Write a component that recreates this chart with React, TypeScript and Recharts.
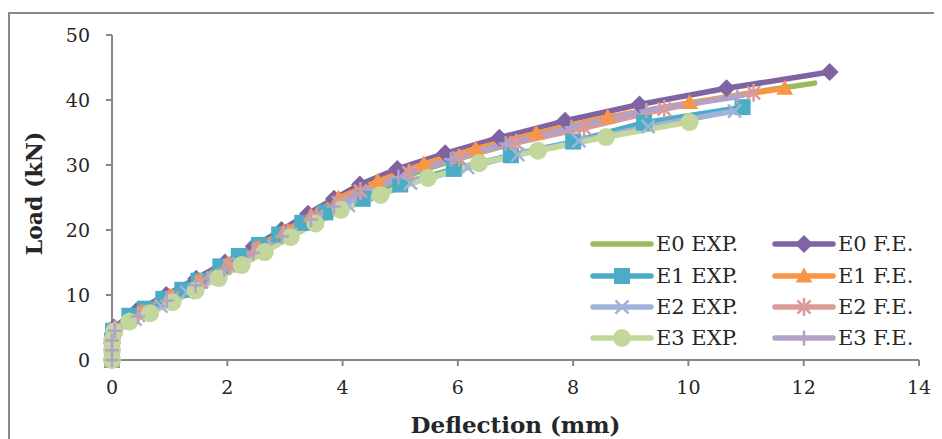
import { LineChart, Line, XAxis, YAxis, Legend, Label } from 'recharts';

// deflection (mm) / load (kN), one pair of arrays per test
const e0ExpDefl = [0, 0, 0.05, 0.5, 1, 1.5, 2, 2.5, 3, 3.5, 4, 4.5, 5, 5.5, 6, 6.5, 7, 7.5, 8, 8.5, 9, 9.5, 10, 10.5, 11, 11.5, 12.19];
const e0ExpLoad = [0, 2, 4.5, 6.6, 9, 11.4, 13.9, 16.4, 19, 21.6, 24.1, 26.1, 27.9, 29.5, 30.9, 32.2, 33.4, 34.5, 35.6, 36.6, 37.6, 38.5, 39.4, 40.2, 41.0, 41.7, 42.6];

const e0FeDefl = [0, 0, 0.03, 0.42, 0.94, 1.46, 1.96, 2.46, 2.94, 3.4, 3.85, 4.3, 4.95, 5.78, 6.72, 7.86, 9.15, 10.66, 12.45];
const e0FeLoad = [0, 2.5, 5, 7.5, 10, 12.5, 15, 17.5, 20, 22.5, 24.8, 27, 29.4, 31.8, 34.2, 36.8, 39.3, 41.8, 44.3];

const e1ExpDefl = [0, 0, 0, 0.02, 0.3, 0.57, 0.89, 1.22, 1.5, 1.88, 2.2, 2.55, 2.9, 3.3, 3.7, 4.35, 5.0, 5.93, 6.92, 8.0, 9.23, 10.94];
const e1ExpLoad = [0, 1.5, 3, 4.5, 6.8, 7.9, 9.4, 10.8, 12.2, 14.4, 16, 17.7, 19.3, 21.1, 22.7, 24.8, 27, 29.4, 31.5, 33.6, 36.5, 38.9];

const e1FeDefl = [0, 0, 0.04, 0.5, 1.0, 1.5, 2.0, 2.5, 2.98, 3.45, 3.93, 4.61, 5.41, 6.31, 7.36, 8.6, 10.02, 11.67];
const e1FeLoad = [0, 2.4, 4.8, 7.3, 9.8, 12.2, 14.7, 17.2, 19.7, 22.2, 24.9, 27.5, 30.2, 32.5, 34.9, 37.4, 39.6, 41.8];

const e2ExpDefl = [0, 0, 0.03, 0.4, 0.85, 1.3, 1.75, 2.2, 2.65, 3.1, 3.55, 4.1, 4.6, 5.18, 6.17, 7.04, 8.1, 9.3, 10.8];
const e2ExpLoad = [0, 2, 4.2, 6.3, 8.3, 10.4, 12.6, 14.8, 17, 19.3, 21.5, 23.8, 25.4, 27.2, 29.6, 31.6, 33.7, 35.9, 38.3];

const e2FeDefl = [0, 0, 0.06, 0.55, 1.05, 1.55, 2.05, 2.55, 3.05, 3.55, 3.93, 4.31, 5.15, 6.02, 7.01, 8.19, 9.58, 11.13];
const e2FeLoad = [0, 2.4, 4.8, 7.2, 9.6, 12.0, 14.5, 17.0, 19.6, 22.1, 24.2, 26.0, 28.8, 31.1, 33.4, 35.7, 38.6, 41.1];

const e3ExpDefl = [0, 0, 0, 0.04, 0.3, 0.66, 1.05, 1.45, 1.85, 2.25, 2.65, 3.1, 3.53, 3.97, 4.66, 5.48, 6.37, 7.39, 8.57, 10.02];
const e3ExpLoad = [0, 1.5, 3, 4.4, 5.9, 7.2, 8.9, 10.7, 12.6, 14.6, 16.6, 18.9, 21, 23.1, 25.4, 28, 30.3, 32.2, 34.3, 36.6];

const e3FeDefl = [0, 0, 0, 0.05, 0.45, 0.95, 1.45, 1.95, 2.45, 2.95, 3.45, 3.85, 4.23, 4.97, 5.88, 6.83, 7.97, 9.27, 10.85];
const e3FeLoad = [0, 1.5, 3, 4.5, 6.7, 9.1, 11.5, 14, 16.5, 19, 21.6, 23.6, 25.3, 28.1, 30.9, 33.3, 35.8, 38.4, 40.5];

const xTicks = [0, 2, 4, 6, 8, 10, 12, 14];
const yTicks = [0, 10, 20, 30, 40, 50];

type Shape = 'none' | 'diamond' | 'square' | 'triangle' | 'x' | 'star' | 'circle' | 'plus';

const series: { name: string; defl: number[]; load: number[]; color: string; shape: Shape }[] = [
  { name: 'E0 EXP.', defl: e0ExpDefl, load: e0ExpLoad, color: '#9bbb59', shape: 'none' },
  { name: 'E0 F.E.', defl: e0FeDefl, load: e0FeLoad, color: '#8064a2', shape: 'diamond' },
  { name: 'E1 EXP.', defl: e1ExpDefl, load: e1ExpLoad, color: '#4bacc6', shape: 'square' },
  { name: 'E1 F.E.', defl: e1FeDefl, load: e1FeLoad, color: '#f79646', shape: 'triangle' },
  { name: 'E2 EXP.', defl: e2ExpDefl, load: e2ExpLoad, color: '#a0b4da', shape: 'x' },
  { name: 'E2 F.E.', defl: e2FeDefl, load: e2FeLoad, color: '#d99a98', shape: 'star' },
  { name: 'E3 EXP.', defl: e3ExpDefl, load: e3ExpLoad, color: '#c3d69b', shape: 'circle' },
  { name: 'E3 F.E.', defl: e3FeDefl, load: e3FeLoad, color: '#b3a2c7', shape: 'plus' },
];

const axisColor = '#888888';
const textColor = '#262626';
const serif = "'DejaVu Serif', serif";

const marker = (shape: Shape, color: string, cx: number, cy: number, key?: string) => {
  switch (shape) {
    case 'diamond':
      return <path key={key} d={`M${cx},${cy - 9}L${cx + 9},${cy}L${cx},${cy + 9}L${cx - 9},${cy}Z`} fill={color} />;
    case 'square':
      return <rect key={key} x={cx - 8} y={cy - 8} width={16} height={16} fill={color} />;
    case 'triangle':
      return <path key={key} d={`M${cx},${cy - 8.5}L${cx + 8.5},${cy + 6.5}L${cx - 8.5},${cy + 6.5}Z`} fill={color} />;
    case 'x':
      return (
        <path key={key} d={`M${cx - 6.5},${cy - 6.5}L${cx + 6.5},${cy + 6.5}M${cx - 6.5},${cy + 6.5}L${cx + 6.5},${cy - 6.5}`} stroke={color} strokeWidth={2.5} />
      );
    case 'star':
      return (
        <path
          key={key}
          d={`M${cx - 6.5},${cy - 6.5}L${cx + 6.5},${cy + 6.5}M${cx - 6.5},${cy + 6.5}L${cx + 6.5},${cy - 6.5}M${cx},${cy - 9}L${cx},${cy + 9}`}
          stroke={color}
          strokeWidth={2.5}
        />
      );
    case 'circle':
      return <circle key={key} cx={cx} cy={cy} r={9} fill={color} />;
    case 'plus':
      return <path key={key} d={`M${cx - 7},${cy}L${cx + 7},${cy}M${cx},${cy - 7.5}L${cx},${cy + 7.5}`} stroke={color} strokeWidth={2.5} />;
    default:
      return <g key={key} />;
  }
};

const dotFor = (shape: Shape, color: string, name: string) => (props: any) => {
  const key = `${name}-${props.index}`;
  if (props.cx == null || props.cy == null) return <g key={key} />;
  return marker(shape, color, props.cx, props.cy, key);
};

const LegendBox = () => {
  const rows = [16, 48, 79, 110];
  return (
    <svg width={340} height={128} style={{ display: 'block' }}>
      {series.map((s, i) => {
        const col = i % 2;
        const y = rows[Math.floor(i / 2)];
        const x0 = col === 0 ? 3 : 185;
        return (
          <g key={s.name}>
            <line x1={x0} x2={x0 + 58} y1={y} y2={y} stroke={s.color} strokeWidth={5.5} strokeLinecap="round" />
            {marker(s.shape, s.color, x0 + 29, y)}
            <text x={x0 + 63} y={y} dominantBaseline="central" fontFamily={serif} fontSize={21} fill={textColor}>
              {s.name}
            </text>
          </g>
        );
      })}
    </svg>
  );
};

const YTitle = ({ viewBox }: any) => {
  const x = viewBox.x + 24;
  const y = viewBox.y + viewBox.height / 2 - 4;
  return (
    <text x={x} y={y} transform={`rotate(-90 ${x} ${y})`} textAnchor="middle" dominantBaseline="central" fontFamily={serif} fontWeight="bold" fontSize={22} fill={textColor}>
      Load (kN)
    </text>
  );
};

const XTitle = ({ viewBox }: any) => (
  <text x={viewBox.x + viewBox.width / 2} y={viewBox.y + 73} textAnchor="middle" fontFamily={serif} fontWeight="bold" fontSize={23} fill={textColor}>
    Deflection (mm)
  </text>
);

export default function App() {
  return (
    <div style={{ position: 'relative', width: 934, height: 431, overflow: 'hidden' }}>
      <style>{'html,body{overflow:hidden}'}</style>
      <div style={{ position: 'absolute', left: 0, top: 4, width: 960, height: 460, border: `2px solid ${axisColor}`, boxSizing: 'border-box' }} />
      <div style={{ position: 'absolute', left: 2, top: 6 }}>
        <LineChart width={925} height={425} margin={{ top: 21, right: 16, left: 0, bottom: 0 }}>
          <XAxis
            type="number"
            dataKey="d"
            domain={[0, 14]}
            ticks={xTicks}
            height={79}
            stroke={axisColor}
            strokeWidth={2}
            tickSize={6}
            tickMargin={15}
            tick={{ fill: textColor, fontFamily: serif, fontSize: 19 }}
          >
            <Label content={XTitle} />
          </XAxis>
          <YAxis
            type="number"
            dataKey="load"
            domain={[0, 50]}
            ticks={yTicks}
            width={102}
            stroke={axisColor}
            strokeWidth={2}
            tickSize={6}
            tickMargin={16}
            tick={{ fill: textColor, fontFamily: serif, fontSize: 19 }}
          >
            <Label content={YTitle} />
          </YAxis>
          <Legend
            layout="horizontal"
            verticalAlign="middle"
            align="center"
            content={LegendBox}
            wrapperStyle={{ position: 'absolute', left: 580, top: 214, width: 340 }}
          />
          {series.map((s) => (
            <Line
              key={s.name}
              name={s.name}
              data={s.defl.map((d, i) => ({ d, load: s.load[i] }))}
              dataKey="load"
              type="linear"
              stroke={s.color}
              strokeWidth={5.5}
              strokeLinecap="round"
              strokeLinejoin="round"
              dot={s.shape === 'none' ? false : dotFor(s.shape, s.color, s.name)}
              activeDot={false}
              isAnimationActive={false}
            />
          ))}
        </LineChart>
      </div>
    </div>
  );
}
